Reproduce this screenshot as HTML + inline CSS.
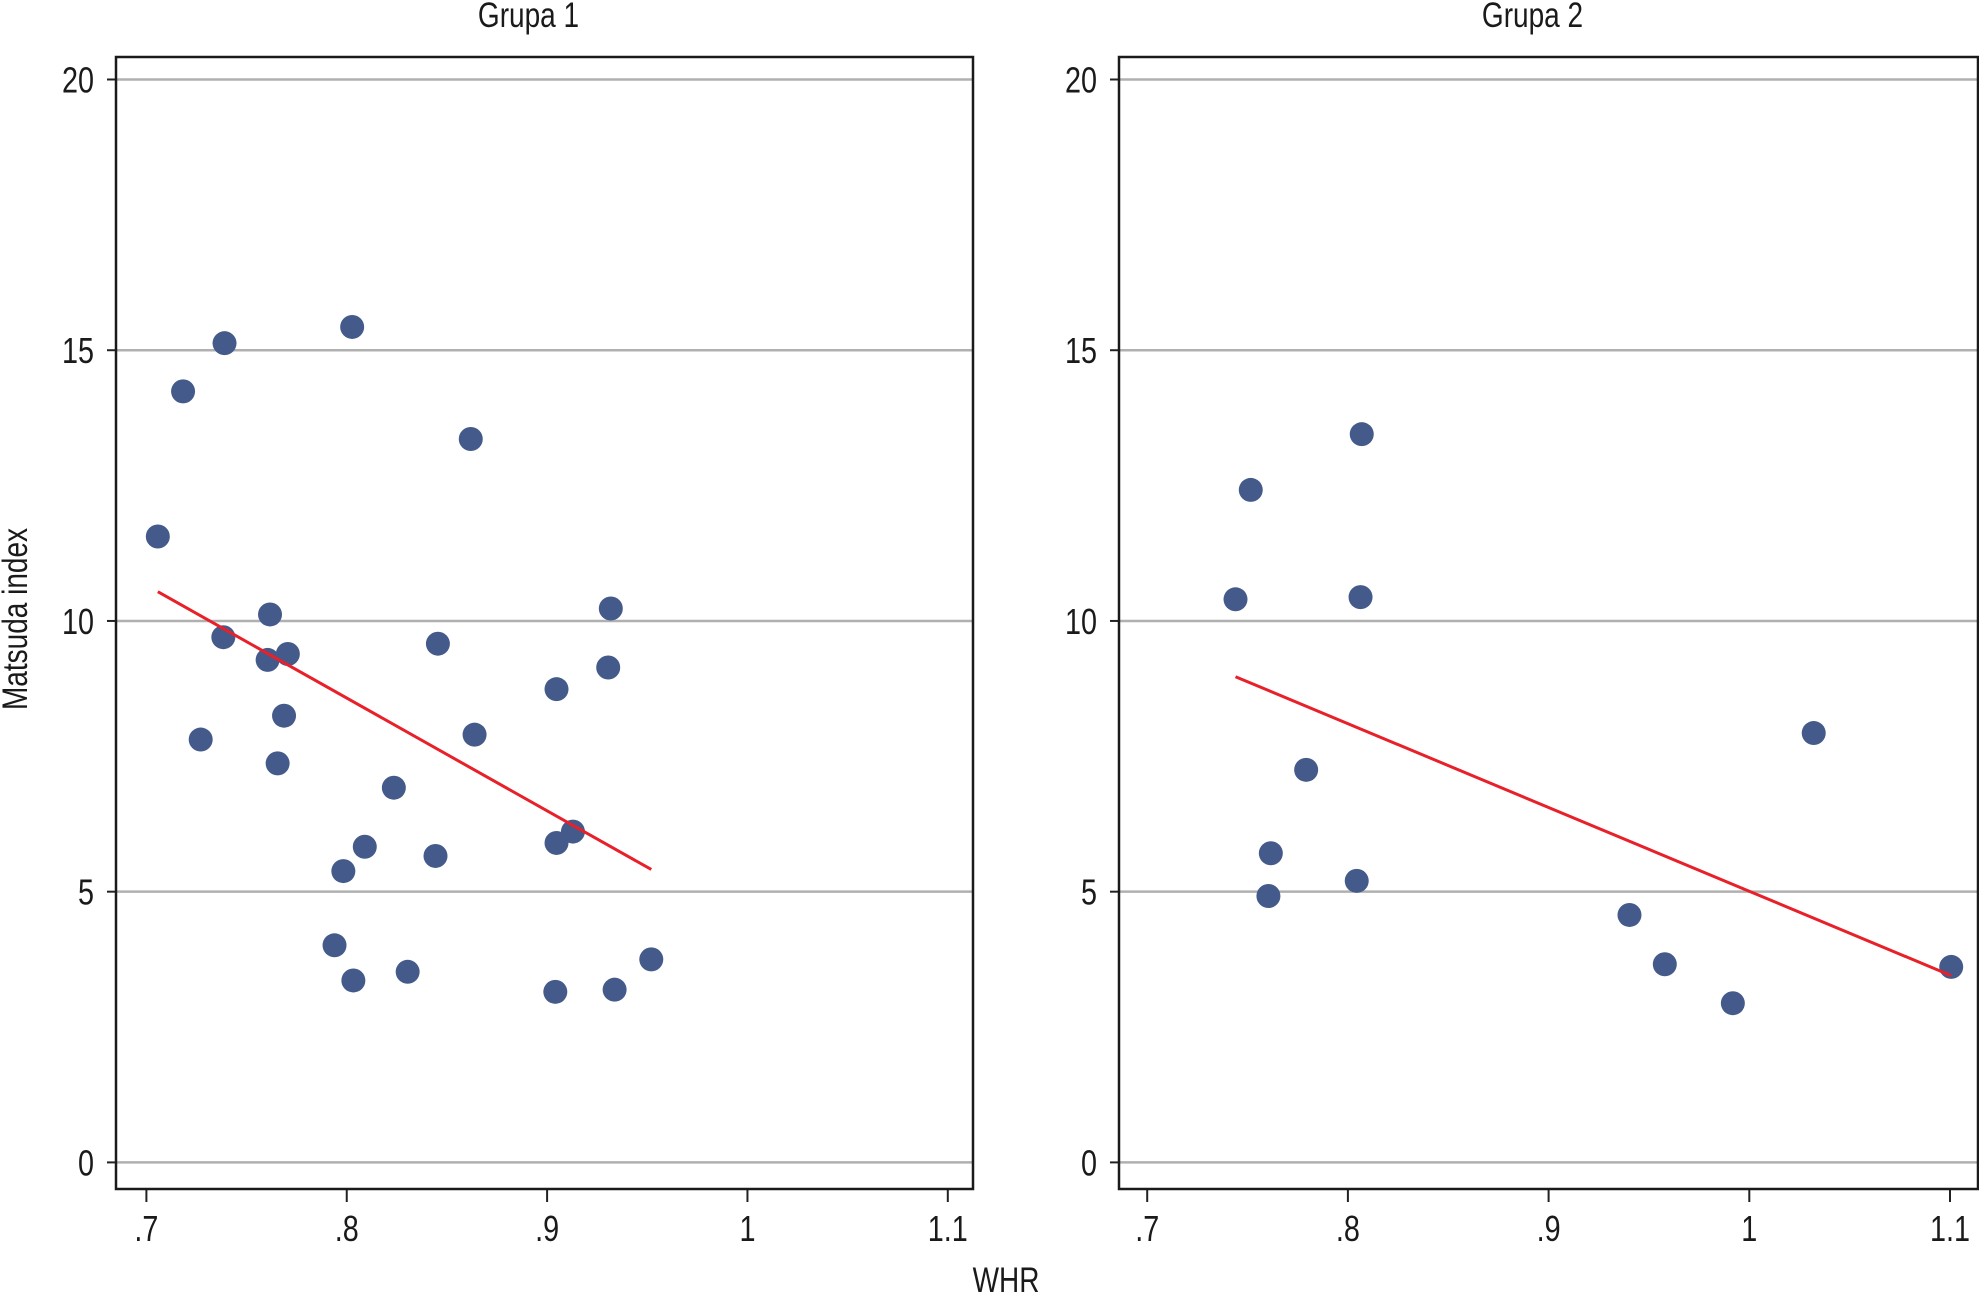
<!DOCTYPE html>
<html><head><meta charset="utf-8"><style>
html,body{margin:0;padding:0;background:#fff;}
svg{display:block;}
text{font-family:"Liberation Sans Narrow","Liberation Sans",sans-serif;fill:#1a1a1a;}
</style></head><body>
<svg id="chart" width="1979" height="1293" xmlns="http://www.w3.org/2000/svg"></svg>
<script>
const xTicks=[0.7,0.8,0.9,1.0,1.1];
const xTickLabels=[".7",".8",".9","1","1.1"];
const yTicks=[0,5,10,15,20];
const yTickLabels=["0","5","10","15","20"];
const g1X=[0.7057,0.7183,0.739,0.8027,0.8619,0.7617,0.7384,0.7605,0.7706,0.7271,0.7687,0.7655,0.8455,0.8638,0.8235,0.809,0.7983,0.8443,0.7939,0.8033,0.8304,0.9047,0.9318,0.9305,0.9047,0.9129,0.9041,0.9337,0.952];
const g1Y=[11.56,14.24,15.13,15.43,13.36,10.12,9.70,9.28,9.39,7.81,8.25,7.37,9.58,7.90,6.92,5.83,5.38,5.66,4.01,3.36,3.52,8.74,10.23,9.14,5.90,6.11,3.15,3.19,3.75];
const g1FitX=[0.7057,0.952];
const g1FitY=[10.54,5.41];
const g2X=[0.7516,0.8069,0.744,0.8063,0.7792,0.7616,0.7604,0.8044,1.0321,0.9403,0.9579,0.9918,1.1006];
const g2Y=[12.42,13.45,10.40,10.44,7.25,5.71,4.92,5.20,7.93,4.57,3.66,2.94,3.61];
const g2FitX=[0.744,1.1006];
const g2FitY=[8.97,3.45];

const NS="http://www.w3.org/2000/svg";
const svg=document.getElementById('chart');
function mk(tag,attrs,parent){const e=document.createElementNS(NS,tag);for(const k in attrs)e.setAttribute(k,attrs[k]);(parent||svg).appendChild(e);return e;}
function txt(str,x,y,anchor,size,parent,rot){
  const t=mk('text',{x:0,y:0,'text-anchor':anchor,'font-size':size,transform:'translate('+x+','+y+')'+(rot?' rotate(-90)':'')+' scale(0.8,1)'},parent);
  t.textContent=str;return t;
}
const yScale=v=>1162.4+(79.5-1162.4)*v/20;

const panels=[
 {name:'grupa-1',title:'Grupa 1',left:116,right:973,x07:146.4,x11:947.8,xs:g1X,ys:g1Y,fx:g1FitX,fy:g1FitY},
 {name:'grupa-2',title:'Grupa 2',left:1119,right:1978,x07:1147.2,x11:1950,xs:g2X,ys:g2Y,fx:g2FitX,fy:g2FitY}
];
const plotTop=57,plotBottom=1189;
panels.forEach(p=>{
  const xScale=v=>p.x07+(p.x11-p.x07)*(v-0.7)/0.4;
  const g=mk('g',{});
  
  
  yTicks.forEach((t,i)=>{
    const y=yScale(t);
    const gl=mk('line',{x1:p.left,x2:p.right,y1:y,y2:y,stroke:'#b0b0b0','stroke-width':2.5},g);
    
    
    mk('line',{x1:p.left-9,x2:p.left,y1:y,y2:y,stroke:'#222','stroke-width':2},g);
    const tl=txt(yTickLabels[i],p.left-22,y+13,'end',36,g);
    
    
  });
  xTicks.forEach((t,i)=>{
    const x=xScale(t);
    mk('line',{x1:x,x2:x,y1:plotBottom,y2:plotBottom+13,stroke:'#222','stroke-width':2},g);
    const tl=txt(xTickLabels[i],x,plotBottom+52,'middle',36,g);
    
    
  });
  const fr=mk('rect',{x:p.left,y:plotTop,width:p.right-p.left,height:plotBottom-plotTop,fill:'none',stroke:'#1a1a1a','stroke-width':2.5},g);
  
  
  p.xs.forEach((v,i)=>{
    const c=mk('circle',{cx:xScale(v),cy:yScale(p.ys[i]),r:12,fill:'#445a8a'},g);
    
    
  });
  const fl=mk('line',{x1:xScale(p.fx[0]),y1:yScale(p.fy[0]),x2:xScale(p.fx[1]),y2:yScale(p.fy[1]),stroke:'#e8202a','stroke-width':3},g);
  
  
  const tt=txt(p.title,(p.left+p.right)/2-16,27,'middle',35,g);
  
  
});
const yt=txt('Matsuda index',27,619,'middle',35,svg,true);


const xt=txt('WHR',1006,1292,'middle',35,svg);


</script>
</body></html>
